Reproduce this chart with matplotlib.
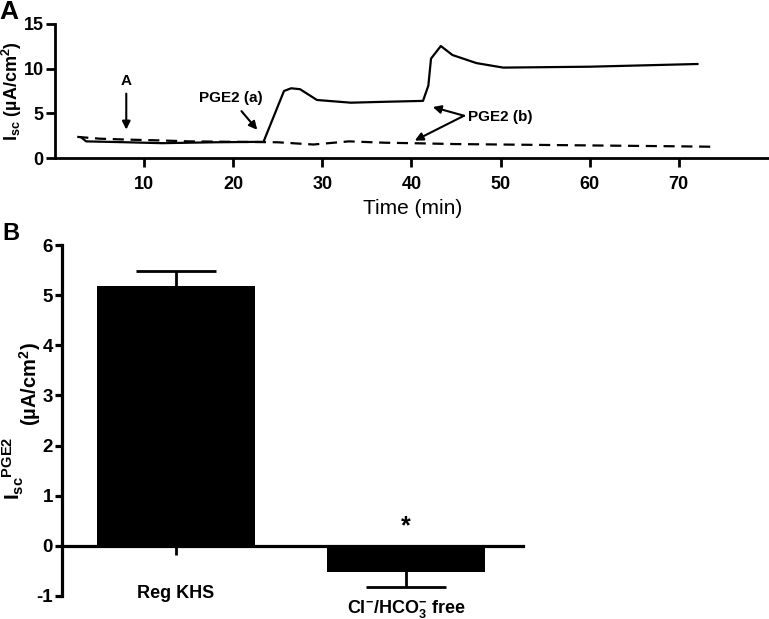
import numpy as np
import matplotlib
matplotlib.use("Agg")
import matplotlib.pyplot as plt

plt.rcParams['font.family'] = ['Liberation Sans', 'DejaVu Sans']
plt.rcParams['font.weight'] = 'bold'
plt.rcParams['axes.unicode_minus'] = False
plt.rcParams['mathtext.fontset'] = 'custom'
plt.rcParams['mathtext.rm'] = 'Liberation Sans:bold'
plt.rcParams['mathtext.it'] = 'Liberation Sans:bold'
plt.rcParams['mathtext.bf'] = 'Liberation Sans:bold'

# panel A traces (time in min, Isc in uA/cm2)
solid_t = [3.0, 3.5, 8, 12, 18, 23.4, 25.7, 26.5, 27.5, 29.4, 33.2, 37, 41.3,
           41.9, 42.2, 43.3, 44.6, 47.3, 50.3, 60, 72.1]
solid_y = [2.3, 1.9, 1.8, 1.7, 1.8, 1.85, 7.5, 7.8, 7.7, 6.5, 6.2, 6.3, 6.4,
           8.1, 11.1, 12.5, 11.5, 10.6, 10.1, 10.2, 10.5]
dash_t = [2.5, 5, 8, 12, 15, 20, 25, 29, 33, 37, 40, 45, 50, 60, 70, 74]
dash_y = [2.4, 2.2, 2.1, 2.0, 1.9, 1.85, 1.8, 1.55, 1.9, 1.75, 1.7, 1.6, 1.55,
          1.45, 1.35, 1.3]

# panel B bars
groups = ['Reg KHS', r'Cl$^{-}$/HCO$_{3}^{-}$ free']
means = [5.18, -0.52]
sems = [0.3, 0.3]

fig = plt.figure(figsize=(7.69, 6.19), dpi=100)

# ---- panel A ----
axA = fig.add_axes([0.0715, 0.744, 0.927, 0.218])
axA.plot(solid_t, solid_y, color='black', lw=1.6)
axA.plot(dash_t, dash_y, color='black', lw=1.6, dashes=(5, 3))
axA.set_xlim(0, 80)
axA.set_ylim(0, 15)
axA.set_xticks([10, 20, 30, 40, 50, 60, 70])
axA.set_yticks([0, 5, 10, 15])
for s in ['top', 'right']:
    axA.spines[s].set_visible(False)
for s in ['left', 'bottom']:
    axA.spines[s].set_linewidth(2)
axA.tick_params(width=2, length=6.5, labelsize=13)
axA.tick_params(axis='x', pad=6)
axA.tick_params(axis='y', pad=1.5)
axA.set_xlabel('Time (min)', fontsize=15, fontweight='normal')
axA.xaxis.set_label_coords(0.502, -0.30)
axA.set_ylabel('I$_{sc}$ (µA/cm$^{2}$)', fontsize=13, fontweight='bold')
axA.yaxis.set_label_coords(-0.043, 0.5)

arrow_kw = dict(arrowstyle='-|>', color='black', lw=1.5, mutation_scale=12)
axA.annotate('A', xy=(8, 2.9), xytext=(8, 8.6), ha='center', va='center',
             fontsize=11, arrowprops=arrow_kw)
axA.annotate('PGE2 (a)', xy=(22.9, 2.95), xytext=(19.7, 6.7), ha='center',
             va='center', fontsize=11,
             arrowprops=dict(arrowstyle='-|>', color='black', lw=1.5,
                             mutation_scale=12, shrinkA=3))
axA.text(46.4, 4.6, 'PGE2 (b)', ha='left', va='center', fontsize=11)
axA.annotate('', xy=(42.1, 5.8), xytext=(45.9, 4.75), arrowprops=dict(
    arrowstyle='-|>', color='black', lw=1.5, mutation_scale=12, shrinkA=0))
axA.annotate('', xy=(40.1, 1.85), xytext=(45.9, 4.75), arrowprops=dict(
    arrowstyle='-|>', color='black', lw=1.5, mutation_scale=12, shrinkA=0))
fig.text(0.011, 0.980, 'A', fontsize=19, ha='center', va='center')

# ---- panel B ----
axB = fig.add_axes([0.0806, 0.0372, 0.5994, 0.567])
x = np.arange(len(groups))
axB.bar(x, means, width=0.687, color='black', zorder=3)
axB.errorbar(x, means, yerr=sems, fmt='none', ecolor='black',
             elinewidth=2, capsize=28.5, capthick=2, zorder=2)
axB.set_xlim(-0.496, 1.51)
axB.set_ylim(-1, 6)
axB.set_yticks(range(-1, 7))
axB.spines['top'].set_visible(False)
axB.spines['right'].set_visible(False)
axB.spines['bottom'].set_position(('data', 0))
axB.spines['bottom'].set_zorder(4)
axB.spines['left'].set_linewidth(2.3)
axB.spines['bottom'].set_linewidth(2.3)
axB.set_xticks(x)
axB.set_xticklabels([])
axB.tick_params(axis='x', width=2, length=6.5)
axB.tick_params(axis='y', width=2.3, length=5, labelsize=13.5, pad=1.5)
label_y = [-1.04, -1.34]
for xi, g, ly in zip(x, groups, label_y):
    axB.text(xi, ly, g, ha='center', va='baseline', fontsize=13,
             clip_on=False)
axB.text(1, 0.38, '*', ha='center', va='center', fontsize=18)
# y label drawn in two pieces, the unit sits lower as in the original
fig.text(0.0273, 0.192, r'I$_{sc}$$^{PGE2}$', rotation=90,
         rotation_mode='anchor', ha='left', va='baseline', fontsize=15)
fig.text(0.0485, 0.311, r'(µA/cm$^{2}$)', rotation=90,
         rotation_mode='anchor', ha='left', va='baseline', fontsize=14.5)
fig.text(0.014, 0.623, 'B', fontsize=17, ha='center', va='center')

fig.savefig('out.png', dpi=100)
